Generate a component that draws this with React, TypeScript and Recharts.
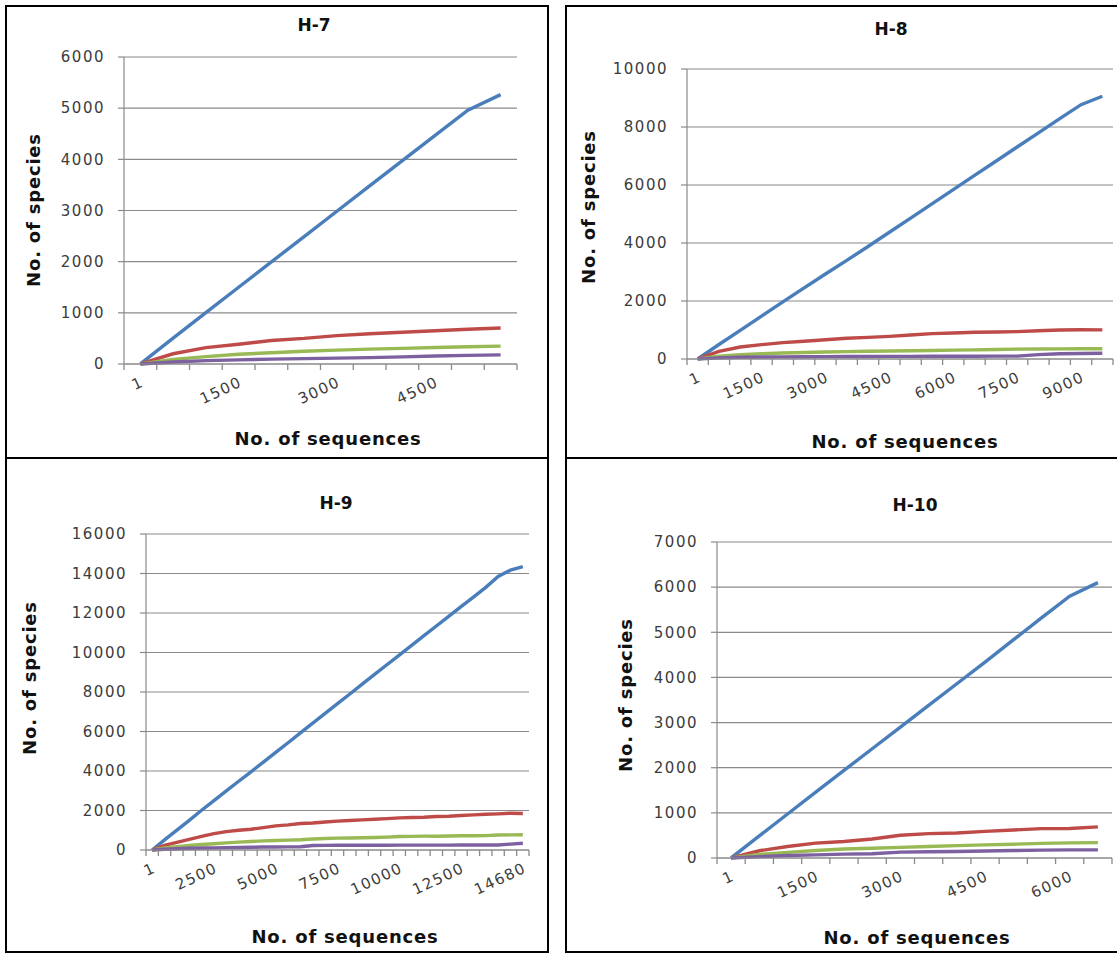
import React from 'react';
import { LineChart, Line, XAxis, YAxis, CartesianGrid } from 'recharts';

// H-7
const h7Seq = ['1', '500', '1000', '1500', '2000', '2500', '3000', '3500', '4000', '4500', '5000', '5283'];
const h7Blue = [1, 505, 1005, 1500, 1995, 2490, 2985, 3480, 3975, 4470, 4960, 5265];
const h7Red = [1, 200, 320, 385, 460, 500, 555, 590, 620, 650, 680, 705];
const h7Green = [1, 90, 145, 190, 220, 250, 272, 290, 305, 322, 338, 350];
const h7Purple = [1, 40, 65, 80, 95, 105, 115, 125, 140, 155, 168, 178];
const h7Labels = ['1', '1500', '3000', '4500'];
const h7YTicks = [0, 1000, 2000, 3000, 4000, 5000, 6000];

// H-8
const h8Seq = ['1', '500', '1000', '1500', '2000', '2500', '3000', '3500', '4000', '4500', '5000', '5500', '6000', '6500', '7000', '7500', '8000', '8500', '9000', '9312'];
const h8Blue = [1, 500, 990, 1480, 1970, 2450, 2930, 3400, 3880, 4370, 4860, 5350, 5840, 6330, 6820, 7310, 7800, 8290, 8770, 9060];
const h8Red = [1, 265, 415, 495, 565, 610, 665, 715, 745, 780, 830, 875, 895, 920, 930, 945, 975, 1000, 1010, 1005];
const h8Green = [1, 100, 150, 180, 205, 225, 240, 255, 265, 275, 285, 295, 305, 315, 330, 340, 345, 350, 355, 355];
const h8Purple = [1, 40, 60, 70, 75, 80, 82, 85, 88, 90, 92, 94, 95, 96, 98, 100, 150, 180, 190, 200];
const h8Labels = ['1', '1500', '3000', '4500', '6000', '7500', '9000'];
const h8YTicks = [0, 2000, 4000, 6000, 8000, 10000];

// H-9
const h9Seq = ['1', '500', '1000', '1500', '2000', '2500', '3000', '3500', '4000', '4500', '5000', '5500', '6000', '6500', '7000', '7500', '8000', '8500', '9000', '9500', '10000', '10500', '11000', '11500', '12000', '12500', '13000', '13500', '14000', '14500', '14680'];
const h9Blue = [1, 510, 1010, 1500, 2010, 2500, 2990, 3480, 3960, 4450, 4940, 5430, 5930, 6420, 6920, 7410, 7900, 8400, 8890, 9380, 9870, 10360, 10850, 11340, 11830, 12320, 12800, 13300, 13850, 14170, 14350];
const h9Red = [1, 240, 390, 540, 690, 830, 930, 1000, 1050, 1135, 1220, 1270, 1340, 1370, 1420, 1460, 1490, 1525, 1560, 1590, 1625, 1645, 1660, 1695, 1710, 1745, 1780, 1810, 1830, 1860, 1850];
const h9Green = [1, 100, 170, 230, 280, 320, 360, 400, 430, 460, 480, 500, 520, 560, 580, 600, 610, 620, 630, 650, 680, 690, 700, 700, 710, 720, 720, 730, 760, 765, 770];
const h9Purple = [1, 40, 65, 85, 100, 110, 120, 130, 140, 150, 155, 160, 165, 230, 235, 238, 240, 240, 242, 244, 245, 246, 247, 248, 249, 250, 250, 250, 252, 300, 340];
const h9Labels = ['1', '2500', '5000', '7500', '10000', '12500', '14680'];
const h9YTicks = [0, 2000, 4000, 6000, 8000, 10000, 12000, 14000, 16000];

// H-10
const h10Seq = ['1', '500', '1000', '1500', '2000', '2500', '3000', '3500', '4000', '4500', '5000', '5500', '6000', '6289'];
const h10Blue = [1, 490, 975, 1460, 1940, 2420, 2900, 3380, 3860, 4340, 4830, 5320, 5800, 6100];
const h10Red = [1, 160, 255, 330, 365, 420, 505, 540, 555, 590, 620, 650, 655, 690];
const h10Green = [1, 80, 125, 165, 200, 215, 235, 255, 275, 290, 305, 325, 335, 340];
const h10Purple = [1, 30, 55, 70, 85, 95, 130, 140, 145, 155, 165, 175, 180, 180];
const h10Labels = ['1', '1500', '3000', '4500', '6000'];
const h10YTicks = [0, 1000, 2000, 3000, 4000, 5000, 6000, 7000];

const GRID = '#8a8a8a';
const COLORS = { blue: '#4a7ebb', red: '#be4b48', green: '#98b954', purple: '#7d60a0' };
const TICK_STYLE = { fontFamily: 'DejaVu Sans', fontSize: 15, fill: '#3c3c3c', letterSpacing: 1.5 };
const TITLE_FONT = "'DejaVu Sans', sans-serif";
const TICK_LEN = 6;
const LABEL_GAP = 12;

type Box = { left: number; top: number; width: number; height: number };
type Plot = { left: number; right: number; top: number; bottom: number };

type PanelSpec = {
  title: string;
  seq: string[];
  blue: number[];
  red: number[];
  green: number[];
  purple: number[];
  labels: string[];
  yTicks: number[];
  box: Box;
  plot: Plot;
  titleAt: [number, number];
  xTitleAt: [number, number];
  yTitleAt: [number, number];
};

const panels: PanelSpec[] = [
  {
    title: 'H-7', seq: h7Seq, blue: h7Blue, red: h7Red, green: h7Green, purple: h7Purple,
    labels: h7Labels, yTicks: h7YTicks,
    box: { left: 5, top: 5, width: 544, height: 454 },
    plot: { left: 124, right: 517, top: 57, bottom: 364 },
    titleAt: [314, 25], xTitleAt: [328, 439], yTitleAt: [34, 210],
  },
  {
    title: 'H-8', seq: h8Seq, blue: h8Blue, red: h8Red, green: h8Green, purple: h8Purple,
    labels: h8Labels, yTicks: h8YTicks,
    box: { left: 565, top: 5, width: 560, height: 454 },
    plot: { left: 687, right: 1113, top: 69, bottom: 359 },
    titleAt: [891, 29], xTitleAt: [905, 442], yTitleAt: [589, 207],
  },
  {
    title: 'H-9', seq: h9Seq, blue: h9Blue, red: h9Red, green: h9Green, purple: h9Purple,
    labels: h9Labels, yTicks: h9YTicks,
    box: { left: 5, top: 457, width: 544, height: 496 },
    plot: { left: 146, right: 529, top: 534, bottom: 850 },
    titleAt: [336, 503], xTitleAt: [345, 937], yTitleAt: [30, 678],
  },
  {
    title: 'H-10', seq: h10Seq, blue: h10Blue, red: h10Red, green: h10Green, purple: h10Purple,
    labels: h10Labels, yTicks: h10YTicks,
    box: { left: 565, top: 457, width: 560, height: 496 },
    plot: { left: 717, right: 1112, top: 542, bottom: 858 },
    titleAt: [915, 505], xTitleAt: [917, 938], yTitleAt: [626, 695],
  },
];

const centered = (x: number, y: number, extra: React.CSSProperties = {}): React.CSSProperties => ({
  position: 'absolute',
  left: x,
  top: y,
  transform: 'translate(-50%, -50%)',
  whiteSpace: 'nowrap',
  lineHeight: 1,
  fontFamily: TITLE_FONT,
  fontWeight: 700,
  color: '#111',
  ...extra,
});

// One tick per category centre: the tick mark goes on the category's left
// boundary (plus the closing boundary after the last one), the label only
// on the labelled categories.
const makeAxisTick = (seq: string[], labels: string[], halfBand: number, axisY: number) => (props: any) => {
  const { x, payload } = props;
  const i = Math.round(payload.value - 0.5);
  const ty = axisY + LABEL_GAP;
  const left = x - halfBand;
  return (
    <g>
      <line x1={left} x2={left} y1={axisY} y2={axisY + TICK_LEN} stroke={GRID} strokeWidth={1.3} />
      {i === seq.length - 1 && (
        <line x1={x + halfBand} x2={x + halfBand} y1={axisY} y2={axisY + TICK_LEN} stroke={GRID} strokeWidth={1.3} />
      )}
      {labels.includes(seq[i]) && (
        <text
          x={x}
          y={ty}
          dy="0.71em"
          textAnchor="end"
          transform={`rotate(-25, ${x}, ${ty})`}
          fontFamily={TICK_STYLE.fontFamily}
          fontSize={TICK_STYLE.fontSize}
          fill={TICK_STYLE.fill}
          letterSpacing={TICK_STYLE.letterSpacing}
        >
          {seq[i]}
        </text>
      )}
    </g>
  );
};

const Panel: React.FC<{ spec: PanelSpec }> = ({ spec }) => {
  const { seq, box, plot } = spec;
  const n = seq.length;
  const rows = seq.map((s, i) => ({
    pos: i + 0.5,
    seq: s,
    blue: spec.blue[i],
    red: spec.red[i],
    green: spec.green[i],
    purple: spec.purple[i],
  }));
  const centres = rows.map((r) => r.pos);
  const halfBand = (plot.right - plot.left) / n / 2;
  const axisY = plot.bottom - box.top;
  const yMax = spec.yTicks[spec.yTicks.length - 1];

  const below = 70;
  const chartW = plot.right + 6 - box.left;
  const chartH = plot.bottom + below - box.top;

  return (
    <>
      <div
        style={{
          position: 'absolute',
          left: box.left,
          top: box.top,
          width: box.width,
          height: box.height,
          border: '2px solid #000',
          boxSizing: 'border-box',
        }}
      />
      <div style={{ position: 'absolute', left: box.left, top: box.top }}>
        <LineChart
          width={chartW}
          height={chartH}
          data={rows}
          margin={{ top: plot.top - box.top, right: 6, bottom: below - 1, left: 0 }}
        >
          <CartesianGrid vertical={false} stroke={GRID} strokeWidth={1.2} />
          <XAxis
            type="number"
            dataKey="pos"
            domain={[0, n]}
            ticks={centres}
            interval={0}
            height={1}
            axisLine={{ stroke: GRID, strokeWidth: 1.2 }}
            tickLine={false}
            tick={makeAxisTick(seq, spec.labels, halfBand, axisY)}
          />
          <YAxis
            type="number"
            domain={[0, yMax]}
            ticks={spec.yTicks}
            interval={0}
            width={plot.left - box.left}
            tickSize={TICK_LEN}
            tickMargin={13}
            axisLine={{ stroke: GRID, strokeWidth: 1.2 }}
            tickLine={{ stroke: GRID, strokeWidth: 1.2 }}
            tick={TICK_STYLE}
          />
          <Line type="linear" dataKey="blue" stroke={COLORS.blue} strokeWidth={3.4} dot={false} isAnimationActive={false} />
          <Line type="linear" dataKey="red" stroke={COLORS.red} strokeWidth={3.4} dot={false} isAnimationActive={false} />
          <Line type="linear" dataKey="green" stroke={COLORS.green} strokeWidth={3.4} dot={false} isAnimationActive={false} />
          <Line type="linear" dataKey="purple" stroke={COLORS.purple} strokeWidth={3.4} dot={false} isAnimationActive={false} />
        </LineChart>
      </div>
      <div style={centered(spec.titleAt[0], spec.titleAt[1], { fontSize: 17 })}>{spec.title}</div>
      <div style={centered(spec.xTitleAt[0], spec.xTitleAt[1], { fontSize: 18, letterSpacing: 0.8 })}>
        No. of sequences
      </div>
      <div
        style={centered(spec.yTitleAt[0], spec.yTitleAt[1], {
          fontSize: 18,
          letterSpacing: 0.8,
          transform: 'translate(-50%, -50%) rotate(-90deg)',
        })}
      >
        No. of species
      </div>
    </>
  );
};

export default function App() {
  return (
    <div
      style={{
        position: 'absolute',
        left: 0,
        top: 0,
        width: 1117,
        height: 954,
        background: '#fff',
        overflow: 'hidden',
      }}
    >
      {panels.map((p) => (
        <Panel key={p.title} spec={p} />
      ))}
    </div>
  );
}
